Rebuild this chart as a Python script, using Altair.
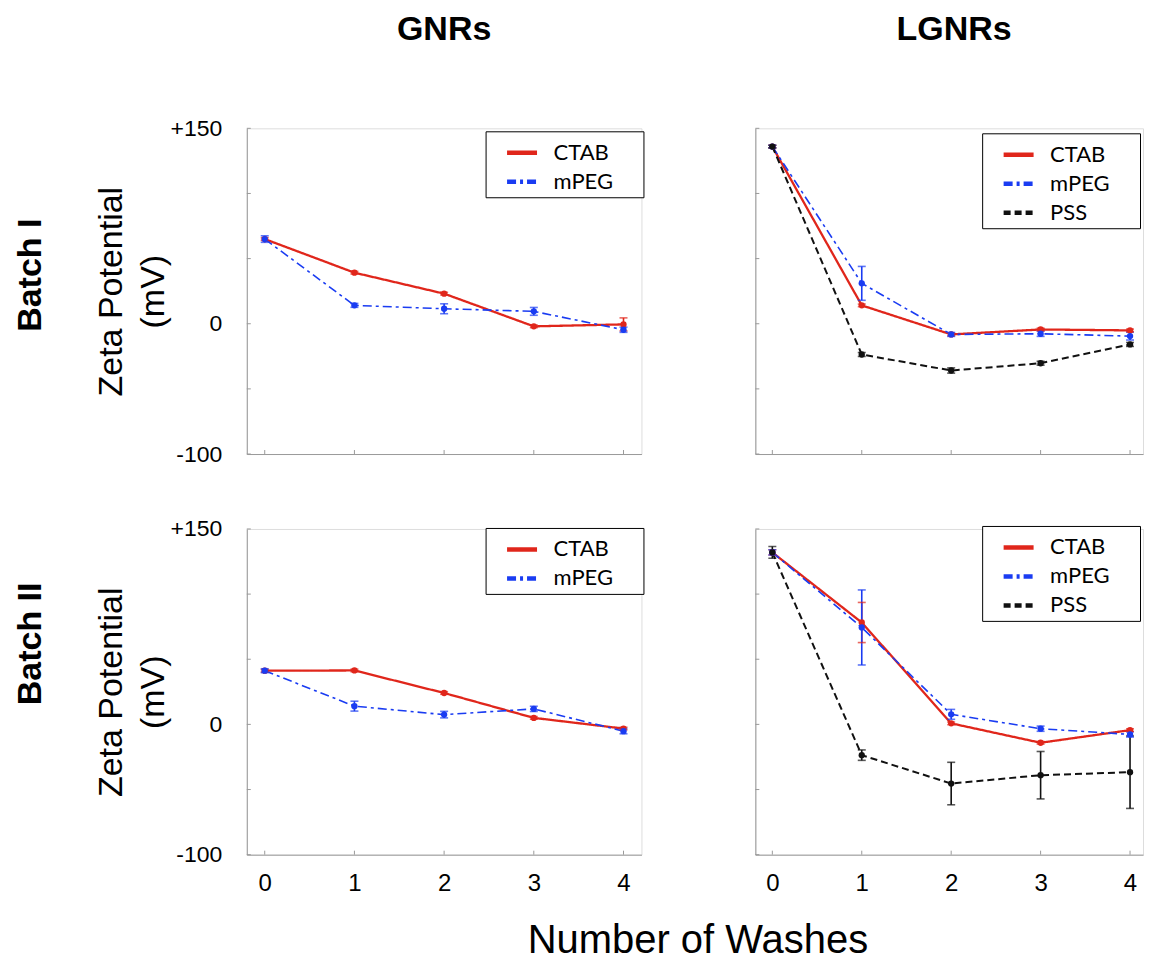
import altair as alt
import pandas as pd

# ---------------- data ----------------
washes = [0, 1, 2, 3, 4]
series_gnr = ["CTAB", "mPEG"]
series_lgnr = ["CTAB", "mPEG", "PSS"]

col_titles = ["GNRs", "LGNRs"]
row_titles = ["Batch I", "Batch II"]
x_title = "Number of Washes"
y_title = ["Zeta Potential", "(mV)"]

# Batch I, GNRs
b1_gnr_ctab = [65, 39.2, 23.1, -2, -0.5]
b1_gnr_ctab_err = [1, 1, 1, 1, 5]
b1_gnr_mpeg = [65, 14.1, 11.5, 9.5, -4.6]
b1_gnr_mpeg_err = [2.5, 1.5, 3.8, 3, 2]

# Batch I, LGNRs
b1_lgnr_ctab = [136, 14.1, -8.2, -4.4, -5.1]
b1_lgnr_ctab_err = [1, 1, 1, 1, 1]
b1_lgnr_mpeg = [136, 31, -8.2, -7.7, -9.5]
b1_lgnr_mpeg_err = [1, 13, 1.5, 2, 3]
b1_lgnr_pss = [136, -23.6, -35.9, -30.3, -15.9]
b1_lgnr_pss_err = [1, 1.5, 2, 1.5, 1.5]

# Batch II, GNRs
b2_gnr_ctab = [41.2, 41.4, 24.1, 5, -3.2]
b2_gnr_ctab_err = [1, 1, 1, 1, 1]
b2_gnr_mpeg = [41.2, 14, 7.5, 11.9, -5.2]
b2_gnr_mpeg_err = [1.5, 3.8, 2.5, 2, 2]

# Batch II, LGNRs
b2_lgnr_ctab = [132, 78.2, 0.8, -14.1, -4.4]
b2_lgnr_ctab_err = [2, 15.4, 1, 1, 1]
b2_lgnr_mpeg = [132, 74.4, 7.7, -3.3, -7.7]
b2_lgnr_mpeg_err = [2, 28.8, 3.8, 2, 2]
b2_lgnr_pss = [132, -23.6, -45.4, -39, -36.7]
b2_lgnr_pss_err = [4.5, 4, 16.3, 18.2, 27.8]

y_ticks = [-100, -50, 0, 50, 100, 150]

# ---------------- styles ----------------
COLORS = {"CTAB": "#e0261b", "mPEG": "#1a3cf2", "PSS": "#111111"}
DASHES = {"CTAB": [1, 0], "mPEG": [9, 4, 3, 4], "PSS": [7, 4]}
WIDTHS = {"CTAB": 2.3, "mPEG": 1.6, "PSS": 2}
H = 326
AXIS_GRAY = "#9a9a9a"
FONT = "Liberation Sans"


def build_df(items):
    rows = []
    for name, vals, errs in items:
        for w, v, e in zip(washes, vals, errs):
            rows.append(dict(series=name, wash=w, value=v, lo=v - e, hi=v + e,
                             lw=WIDTHS[name]))
    return pd.DataFrame(rows)


def text_layer(txt, x, y, size, weight="bold", angle=0):
    return alt.Chart(pd.DataFrame({"t": [txt]})).mark_text(
        font=FONT, fontSize=size, fontWeight=weight, angle=angle,
        align="center", baseline="middle", color="black"
    ).encode(x=alt.value(x), y=alt.value(y), text="t:N")


def panel(items, names, width, xdom, lx, ly, show_x_labels, show_y_labels, extras):
    df = build_df(items)
    xaxis = alt.Axis(values=washes, format="d", labels=show_x_labels, title=None,
                     labelFontSize=24, labelFont=FONT, labelPadding=17, labelColor="black",
                     ticks=False, tickSize=0, domainColor=AXIS_GRAY,
                     grid=False, labelFlush=False, labelOverlap=False)
    if show_y_labels:
        yaxis = alt.Axis(values=y_ticks,
                         labelExpr="datum.value == 150 ? '+150' : (datum.value == 0 ? '0' : (datum.value == -100 ? '-100' : ''))",
                         title=y_title, titleFont=FONT, titleFontSize=34, titleFontWeight="normal",
                         titleLineHeight=42, titlePadding=0, titleColor="black",
                         labelFontSize=23, labelFont=FONT, labelPadding=25, labelColor="black",
                         ticks=False, tickSize=0, domainColor=AXIS_GRAY,
                         grid=False, labelOverlap=False)
    else:
        yaxis = alt.Axis(values=y_ticks, labels=False, title=None,
                         ticks=False, tickSize=0, domainColor=AXIS_GRAY, grid=False)
    xs = alt.Scale(domain=xdom, nice=False, zero=False)
    ys = alt.Scale(domain=[-100, 150], nice=False, zero=False)
    leg = alt.Legend(title="MM", titleOrient="right", titleOpacity=0, titleFontSize=14,
                     titlePadding=2, orient="none", legendX=lx, legendY=ly,
                     symbolType="stroke", symbolSize=900, symbolStrokeWidth=4.5,
                     labelFont="Lato", labelFontSize=22, labelColor="black",
                     strokeColor="black", fillColor="white", padding=4, rowPadding=0,
                     symbolOffset=15, labelOffset=14)
    color = alt.Color("series:N", scale=alt.Scale(domain=names, range=[COLORS[n] for n in names]), legend=leg)
    dash = alt.StrokeDash("series:N", scale=alt.Scale(domain=names, range=[DASHES[n] for n in names]), legend=leg)
    color_nl = alt.Color("series:N", scale=alt.Scale(domain=names, range=[COLORS[n] for n in names]), legend=None)

    base = alt.Chart(df)
    lines = base.mark_line().encode(
        x=alt.X("wash:Q", scale=xs, axis=xaxis),
        y=alt.Y("value:Q", scale=ys, axis=yaxis),
        color=color, strokeDash=dash,
        strokeWidth=alt.StrokeWidth("lw:Q", scale=None), order="wash:Q")
    rules = base.mark_rule(strokeWidth=1.6).encode(
        x="wash:Q", y="lo:Q", y2="hi:Q", color=color_nl)
    cap_hi = base.mark_tick(orient="horizontal", size=8, thickness=1.6).encode(
        x="wash:Q", y="hi:Q", color=color_nl)
    cap_lo = base.mark_tick(orient="horizontal", size=8, thickness=1.6).encode(
        x="wash:Q", y="lo:Q", color=color_nl)
    pts = base.mark_circle(size=40, opacity=1).encode(
        x="wash:Q", y="value:Q", color=color_nl)
    # inward axis ticks
    ytk = alt.Chart(pd.DataFrame({"v": y_ticks})).mark_rule(color=AXIS_GRAY, strokeWidth=1).encode(
        y="v:Q", x=alt.value(0), x2=alt.value(4))
    xtk = alt.Chart(pd.DataFrame({"w": washes})).mark_rule(color=AXIS_GRAY, strokeWidth=1).encode(
        x="w:Q", y=alt.value(H), y2=alt.value(H - 4))
    return alt.layer(ytk, xtk, lines, rules, cap_hi, cap_lo, pts, *extras).properties(
        width=width, height=H)


WL, WR = 395, 388
XL, XR = [-0.2, 4.2], [-0.19, 4.145]

tl = panel([("CTAB", b1_gnr_ctab, b1_gnr_ctab_err), ("mPEG", b1_gnr_mpeg, b1_gnr_mpeg_err)],
           series_gnr, WL, XL, 239, 3, False, True,
           [text_layer(col_titles[0], WL / 2, -98, 34),
            text_layer(row_titles[0], -216, 147, 34, angle=270)])
tr = panel([("CTAB", b1_lgnr_ctab, b1_lgnr_ctab_err), ("mPEG", b1_lgnr_mpeg, b1_lgnr_mpeg_err),
            ("PSS", b1_lgnr_pss, b1_lgnr_pss_err)],
           series_lgnr, WR, XR, 227, 5, False, False,
           [text_layer(col_titles[1], 199, -98, 34)])
bl = panel([("CTAB", b2_gnr_ctab, b2_gnr_ctab_err), ("mPEG", b2_gnr_mpeg, b2_gnr_mpeg_err)],
           series_gnr, WL, XL, 239, -1, True, True,
           [text_layer(row_titles[1], -216, 115, 34, angle=270),
            text_layer(x_title, 451.5, 412, 40, weight="normal")])
br = panel([("CTAB", b2_lgnr_ctab, b2_lgnr_ctab_err), ("mPEG", b2_lgnr_mpeg, b2_lgnr_mpeg_err),
            ("PSS", b2_lgnr_pss, b2_lgnr_pss_err)],
           series_lgnr, WR, XR, 227, -3, True, False, [])

chart = alt.concat(tl, tr, bl, br, columns=2, bounds="flush",
                   spacing=alt.RowColnumber(row=75, column=114)).resolve_scale(
    color="independent", strokeDash="independent",
    x="independent", y="independent").resolve_legend(
    color="independent", strokeDash="independent").properties(
    padding={"left": 5, "top": 4, "right": 0, "bottom": 0}).configure_view(stroke=None).configure(
    font=FONT, background="white")

chart.save("out.html", embed_options={"renderer": "svg", "actions": False})
